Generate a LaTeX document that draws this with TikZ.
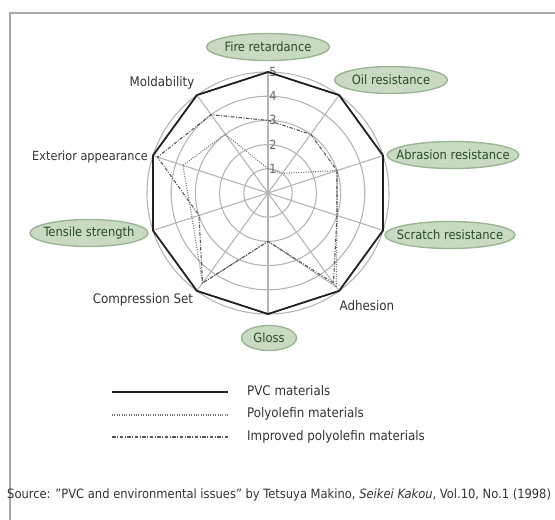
\documentclass[tikz,border=0pt]{standalone}
\usepackage{fontspec}
\setmainfont{DejaVu Sans Condensed}
\usetikzlibrary{shapes.geometric}
\definecolor{gridgray}{HTML}{B5B5B5}
\definecolor{framegray}{HTML}{A8A8A8}
\definecolor{tagfill}{HTML}{C8DBC2}
\definecolor{tagline}{HTML}{9CB595}
\definecolor{tagtext}{HTML}{2A4A2B}
\definecolor{labtext}{HTML}{333333}
\newcommand{\ru}{24.2}
\tikzset{
  grid/.style={draw=gridgray,line width=1.1pt},
  pvcline/.style={draw=black!88,line width=1.8pt,line join=round},
  polyline/.style={draw=black!55,line width=1.1pt,dash pattern=on 1pt off 1.4pt},
  impline/.style={draw=black!65,line width=1.1pt,dash pattern=on 3.5pt off 1.5pt on 1pt off 1.5pt},
  tag/.style={ellipse,draw=tagline,fill=tagfill,line width=1.4pt,text=tagtext,
    inner xsep=-10pt,inner ysep=0pt,minimum height=27pt,font=\fontsize{12.8}{14}\selectfont},
  axlab/.style={text=labtext,inner sep=0pt,font=\fontsize{13.2}{15}\selectfont},
  tick/.style={text=black!60,inner sep=0pt,font=\fontsize{12.5}{14}\selectfont}
}
\begin{document}
\begin{tikzpicture}[x=1pt,y=1pt]
  \useasboundingbox (0,0) rectangle (555,-520);
  % frame
  \coordinate (fbl) at (10,-520);
  \coordinate (ftl) at (10,-13);
  \coordinate (ftr) at (555,-13);
  \draw[draw=framegray,line width=2pt] (fbl) -- (ftl) -- (ftr);
  \begin{scope}[shift={(268,-193)}]
  \coordinate (o) at (0,0);
  % rings and spokes
  \foreach \r in {1,...,5} \draw[grid] (o) circle ({\r*\ru});
  \foreach \a in {18,54,...,342} \draw[grid] (o) -- (\a:{5*\ru});
  % scale
  \foreach \r in {1,...,5} \node[tick] (t\r) at (5,{\r*\ru}) {\r};
  % data
  \foreach \v [count=\i from 0] in {5,5,5,5,5,5,5,5,5,5}
    \coordinate (pvc\i) at ({90-36*\i}:{\v*\ru});
  \foreach \v [count=\i from 0] in {1,1,3,3,4.8,2,4.6,3.3,3.7,3}
    \coordinate (po\i) at ({90-36*\i}:{\v*\ru});
  \foreach \v [count=\i from 0] in {3,3,3,3,4.6,2,4.6,3,4.8,4}
    \coordinate (imp\i) at ({90-36*\i}:{\v*\ru});
  \draw[polyline] (po0) -- (po1) -- (po2) -- (po3) -- (po4) -- (po5)
    -- (po6) -- (po7) -- (po8) -- (po9) -- cycle;
  \draw[impline] (imp0) -- (imp1) -- (imp2) -- (imp3) -- (imp4) -- (imp5)
    -- (imp6) -- (imp7) -- (imp8) -- (imp9) -- cycle;
  \draw[pvcline] (pvc0) -- (pvc1) -- (pvc2) -- (pvc3) -- (pvc4) -- (pvc5)
    -- (pvc6) -- (pvc7) -- (pvc8) -- (pvc9) -- cycle;
  \end{scope}
  % property labels
  \node[tag,minimum width=123pt] (fire) at (268,-47) {Fire retardance};
  \node[tag,minimum width=113pt] (oil) at (391,-80) {Oil resistance};
  \node[tag,minimum width=127pt] (abr) at (453,-155) {Abrasion resistance};
  \node[tag,minimum width=130pt] (scr) at (450,-235) {Scratch resistance};
  \node[tag,minimum width=118pt] (ten) at (89,-233) {Tensile strength};
  \node[tag,minimum width=55pt,minimum height=25pt] (gloss) at (269,-338) {Gloss};
  \node[axlab] (mold) at (162,-83) {Moldability};
  \node[axlab,font=\fontsize{12.6}{15}\selectfont] (ext) at (90,-157) {Exterior appearance};
  \node[axlab] (comp) at (143,-300) {Compression Set};
  \node[axlab] (adh) at (367,-306) {Adhesion};
  % legend
  \coordinate (la1) at (112,-392);
  \coordinate (lb1) at (228,-392);
  \coordinate (la2) at (112,-415);
  \coordinate (lb2) at (228,-415);
  \coordinate (la3) at (112,-437);
  \coordinate (lb3) at (228,-437);
  \draw[pvcline,line width=2.4pt] (la1) -- (lb1);
  \draw[polyline] (la2) -- (lb2);
  \draw[impline] (la3) -- (lb3);
  \node[axlab,anchor=west] (leg1) at (247,-391) {PVC materials};
  \node[axlab,anchor=west] (leg2) at (247,-414) {Polyolefin materials};
  \node[axlab,anchor=west] (leg3) at (247,-437) {Improved polyolefin materials};
  % source
  \node[axlab,anchor=west,font=\fontsize{12.8}{15}\selectfont] (src) at (7,-495) {Source: ''PVC and environmental issues'' by Tetsuya Makino, \textit{Seikei Kakou}, Vol.10, No.1 (1998)};
\end{tikzpicture}
\end{document}
